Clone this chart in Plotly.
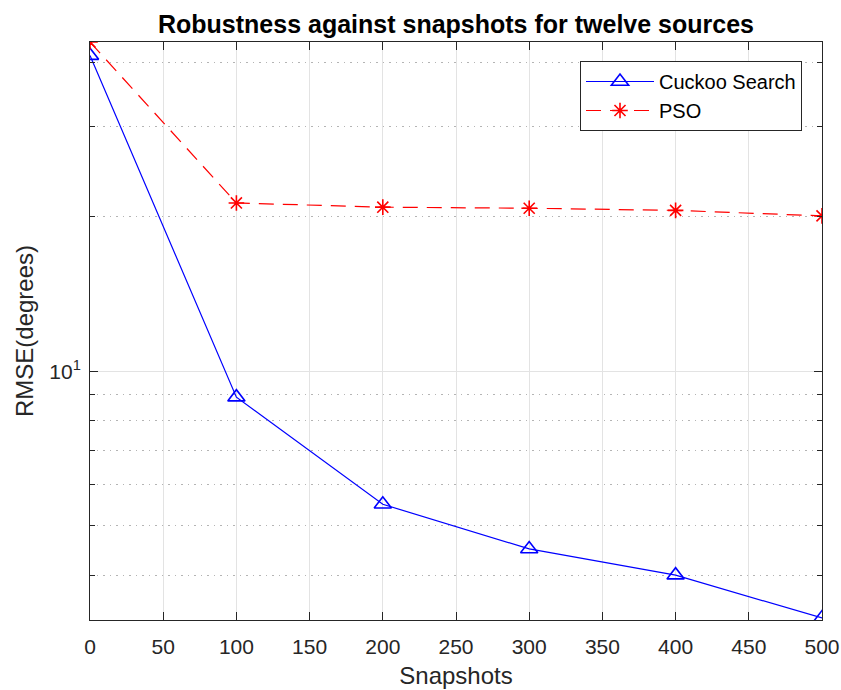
import math
import plotly.graph_objects as go

# Snapshot counts and RMSE (degrees) for each estimator
snapshots = [0, 100, 200, 300, 400, 500]
rmse_cuckoo = [41.3, 8.9, 5.5, 4.5, 4.0, 3.3]
rmse_pso = [43.9, 21.3, 20.9, 20.8, 20.6, 20.1]

x_ticks = list(range(0, 501, 50))
y_major = [10]
y_major_text = ["10<sup>1</sup>"]
y_minor = [4, 5, 6, 7, 8, 9, 20, 30, 40]

font_family = "Liberation Sans, Arial, sans-serif"
axis_color = "#262626"
grid_color = "#e3e3e3"

fig = go.Figure()
fig.add_trace(go.Scatter(
    x=snapshots, y=rmse_cuckoo, name="Cuckoo Search",
    mode="lines+markers",
    line=dict(color="#0000ff", width=1.2),
    marker=dict(symbol="triangle-up-open", size=15, color="#0000ff",
                line=dict(color="#0000ff", width=1.6)),
))
fig.add_trace(go.Scatter(
    x=snapshots, y=rmse_pso, name="PSO",
    mode="lines+markers",
    line=dict(color="#ff0000", width=1.2, dash="15px,9px"),
    marker=dict(symbol="asterisk-open", size=13, color="#ff0000",
                line=dict(color="#ff0000", width=1.6)),
))

fig.update_layout(
    width=841, height=690,
    margin=dict(l=90, r=19, t=42, b=70),
    paper_bgcolor="white", plot_bgcolor="white",
    font=dict(family=font_family, size=21, color=axis_color),
    title=dict(text="<b>Robustness against snapshots for twelve sources</b>",
               x=0.5, xref="paper", xanchor="center",
               y=1 - 24 / 690, yref="container", yanchor="middle",
               font=dict(size=25, color="black")),
    legend=dict(x=(802 - 90) / 732, y=(620 - 61) / 578,
                xanchor="right", yanchor="top",
                bgcolor="white", bordercolor=axis_color, borderwidth=1,
                font=dict(size=20, color="black"),
                itemwidth=68, tracegroupgap=0),
    showlegend=True,
)

fig.update_xaxes(
    range=[0, 500], tickvals=x_ticks, automargin=False,
    showline=True, linecolor=axis_color, linewidth=1, mirror="ticks",
    ticks="inside", ticklen=8, tickcolor=axis_color, ticklabelstandoff=8,
    showgrid=True, gridcolor=grid_color, gridwidth=1, zeroline=False,
    title=dict(text="Snapshots", font=dict(size=24), standoff=9),
    tickfont=dict(size=21),
)
fig.update_yaxes(
    type="log", range=[math.log10(3.27), math.log10(43.9)],
    tickvals=y_major, ticktext=y_major_text, automargin=False,
    showline=True, linecolor=axis_color, linewidth=1, mirror="ticks",
    ticks="inside", ticklen=8, tickcolor=axis_color, ticklabelstandoff=4,
    showgrid=True, gridcolor=grid_color, gridwidth=1, zeroline=False,
    minor=dict(tickvals=y_minor, ticks="inside", ticklen=5,
               tickcolor=axis_color, showgrid=True,
               gridcolor="#b4b4b4", griddash="1.5px,5px", gridwidth=1),
    title=dict(text="RMSE(degrees)", font=dict(size=24), standoff=8),
    tickfont=dict(size=21),
)

fig.write_html("out.html")
